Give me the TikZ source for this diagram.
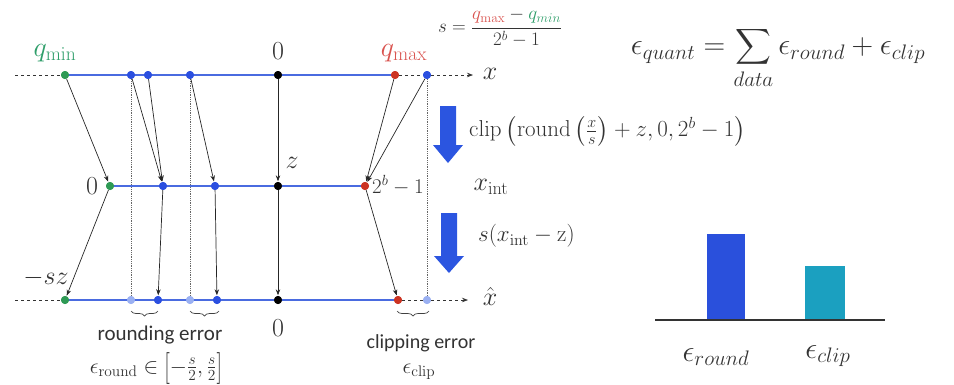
\RequirePackage{fix-cm}
\documentclass[tikz,border=0pt]{standalone}
\usepackage{amsmath}
\usepackage{graphicx}
\usepackage[no-math]{fontspec}
\setmainfont{Carlito}
\usetikzlibrary{arrows.meta,decorations.pathreplacing}
\definecolor{ablue}{HTML}{4A6BE0}
\definecolor{dblue}{HTML}{2B4FE0}
\definecolor{lblue}{HTML}{9AB0F2}
\definecolor{dgreen}{HTML}{2E9A55}
\definecolor{lgreen}{HTML}{2F9E6A}
\definecolor{dred}{HTML}{CC3322}
\definecolor{lred}{HTML}{D9534F}
\definecolor{txt}{HTML}{333333}
\definecolor{bigblue}{HTML}{2B55E0}
\definecolor{bar1}{HTML}{2A50DC}
\definecolor{bar2}{HTML}{1BA0C0}
\newcommand{\tallbr}[1]{\raisebox{-0.32ex}{\scalebox{1}[1.45]{$#1$}}}
\begin{document}
\begin{tikzpicture}[x=1pt,y=-1pt,
  dot/.style={circle,inner sep=0pt,minimum size=8pt},
  bdot/.style={dot,fill=dblue},
  ldot/.style={dot,fill=lblue},
  gdot/.style={dot,fill=dgreen},
  rdot/.style={dot,fill=dred},
  kdot/.style={dot,fill=black},
  axisline/.style={ablue,line width=1.3pt},
  dashline/.style={black!80,dashed,line width=0.7pt},
  conn/.style={black!85,line width=0.7pt,-{Stealth[length=6pt,width=4.5pt]},shorten >=0.5pt},
  guide/.style={black!60,densely dotted,line width=0.8pt},
  lab/.style={text=txt,font=\fontsize{26}{30}\selectfont,inner sep=0pt},
  brc/.style={decorate,decoration={brace,amplitude=5pt},black!75,line width=0.7pt}
]
\useasboundingbox (0,0) rectangle (954,384);

% ---- top axis dots
\node[gdot] (tg) at (65,75) {};
\node[bdot] (t1) at (131,75) {};
\node[bdot] (t2) at (148,75) {};
\node[bdot] (t3) at (190,75) {};
\node[kdot] (tk) at (278,75) {};
\node[rdot] (tr) at (395,75) {};
\node[bdot] (t4) at (427,75) {};
\coordinate (tl) at (15,75);
\coordinate (te) at (473,75);
% ---- middle axis
\node[gdot] (mg) at (110,186) {};
\node[bdot] (m1) at (163,186) {};
\node[bdot] (m2) at (215,186) {};
\node[kdot] (mk) at (278,186) {};
\node[rdot] (mr) at (365,186) {};
% ---- bottom axis
\node[gdot] (bg) at (65,300) {};
\node[ldot] (b1l) at (131,300) {};
\node[bdot] (b1) at (158,300) {};
\node[ldot] (b2l) at (190,300) {};
\node[bdot] (b2) at (217,300) {};
\node[kdot] (bk) at (278,300) {};
\node[rdot] (br) at (398,300) {};
\node[ldot] (b4l) at (427,300) {};
\coordinate (bl) at (15,300);
\coordinate (be) at (468,300);

% guides
\draw[guide] (t1) -- (b1l);
\draw[guide] (t3) -- (b2l);
\draw[guide] (t4) -- (b4l);

% axes
\draw[dashline] (tl) -- (tg);
\draw[axisline] (tg) -- (tr);
\draw[dashline,-{Stealth[length=6pt,width=4.5pt]}] (tr) -- (t4) -- (te);
\draw[axisline] (mg) -- (mr);
\draw[dashline] (bl) -- (bg);
\draw[axisline] (bg) -- (br);
\draw[dashline,-{Stealth[length=6pt,width=4.5pt]}] (br) -- (b4l) -- (be);

% redraw dots on top of lines
\node[gdot] at (tg) {};
\node[bdot] at (t1) {};\node[bdot] at (t2) {};\node[bdot] at (t3) {};
\node[kdot] at (tk) {};\node[rdot] at (tr) {};\node[bdot] at (t4) {};
\node[gdot] at (mg) {};\node[bdot] at (m1) {};\node[bdot] at (m2) {};
\node[kdot] at (mk) {};\node[rdot] at (mr) {};
\node[gdot] at (bg) {};\node[ldot] at (b1l) {};\node[bdot] at (b1) {};
\node[ldot] at (b2l) {};\node[bdot] at (b2) {};\node[kdot] at (bk) {};
\node[rdot] at (br) {};\node[ldot] at (b4l) {};

% connectors
\draw[conn] (tg) -- (mg);
\draw[conn] (t1) -- (m1);
\draw[conn] (t2) -- (m1);
\draw[conn] (t3) -- (m2);
\draw[conn] (tk) -- (mk);
\draw[conn] (tr) -- (mr);
\draw[conn] (t4) -- (mr);
\draw[conn] (mg) -- (bg);
\draw[conn] (m1) -- (b1);
\draw[conn] (m2) -- (b2);
\draw[conn] (mk) -- (bk);
\draw[conn] (mr) -- (br);

% labels
\node[lab,text=lgreen,font=\fontsize{28}{32}\selectfont] (lqmin) at (55,53) {$q_{\mathrm{min}}$};
\node[lab] (ltop0) at (278,51) {$0$};
\node[lab,text=lred,font=\fontsize{28}{32}\selectfont] (lqmax) at (404,53) {$q_{\mathrm{max}}$};
\node[lab] (lx) at (490,74) {$x$};
\node[lab] (lmid0) at (92,186) {$0$};
\node[lab] (lz) at (292,163) {$z$};
\node[lab,font=\fontsize{21}{24}\selectfont,anchor=west] (l2b) at (372,185) {$2^b-1$};
\node[lab] (lxint) at (491,187) {$x_{\mathrm{int}}$};
\node[lab] (lsz) at (46,278) {$-sz$};
\node[lab] (lxh) at (490,296) {$\hat{x}$};
\node[lab] (lbot0) at (278,328) {$0$};

% braces
\draw[brc] (158,311) -- (131,311);
\draw[brc] (219,311) -- (190,311);
\draw[brc] (429,311) -- (397,311);
\node[lab,font=\fontsize{21}{24}\selectfont] (lre) at (160,335) {rounding error};
\node[lab,font=\fontsize{22}{26}\selectfont,anchor=base] (lrf) at (156,373) {$\epsilon_{\mathrm{round}}\in\mathopen{\tallbr{[}}-\frac{s}{2},\frac{s}{2}\mathclose{\tallbr{]}}$};
\node[lab,font=\fontsize{20}{24}\selectfont] (lce) at (421,343) {clipping error};
\node[lab,font=\fontsize{22}{26}\selectfont] (lcf) at (419,372) {$\epsilon_{\mathrm{clip}}$};

% big arrows
\fill[bigblue] (440,106) -- (456,106) -- (456,145) -- (463,145) -- (448,163) -- (433,145) -- (440,145) -- cycle;
\fill[bigblue] (441,213) -- (457,213) -- (457,256) -- (464,256) -- (449,273) -- (434,256) -- (441,256) -- cycle;

% formulas
\node[lab,font=\fontsize{19}{23}\selectfont] (fs) at (500,28) {$s=\dfrac{{\color{lred}q_{\mathrm{max}}}-{\color{lgreen}q_{min}}}{2^b-1}$};
\node[lab,font=\fontsize{23}{27}\selectfont,anchor=west] (fclip) at (469,131) {$\mathrm{clip}\left(\mathrm{round}\left(\frac{x}{s}\right)+z,0,2^b-1\right)$};
\node[lab,font=\fontsize{23}{27}\selectfont,anchor=west] (fdeq) at (478,236) {$s(x_{\mathrm{int}}-\mathrm{z})$};
\node[lab,font=\fontsize{30}{34}\selectfont] (fq) at (778,58) {$\epsilon_{quant}=\displaystyle\sum_{data}\epsilon_{round}+\epsilon_{clip}$};

% bar chart
\coordinate (ax0) at (655,320);
\coordinate (ax1) at (885,320);
\fill[bar1] (707,234) rectangle (745,320);
\fill[bar2] (805,266) rectangle (845,320);
\draw[black!80,line width=1.2pt] (ax0) -- (ax1);
\node[lab,font=\fontsize{30}{34}\selectfont] (lbr) at (716,357) {$\epsilon_{round}$};
\node[lab,font=\fontsize{30}{34}\selectfont] (lbc) at (828,356) {$\epsilon_{clip}$};
\end{tikzpicture}
\end{document}
